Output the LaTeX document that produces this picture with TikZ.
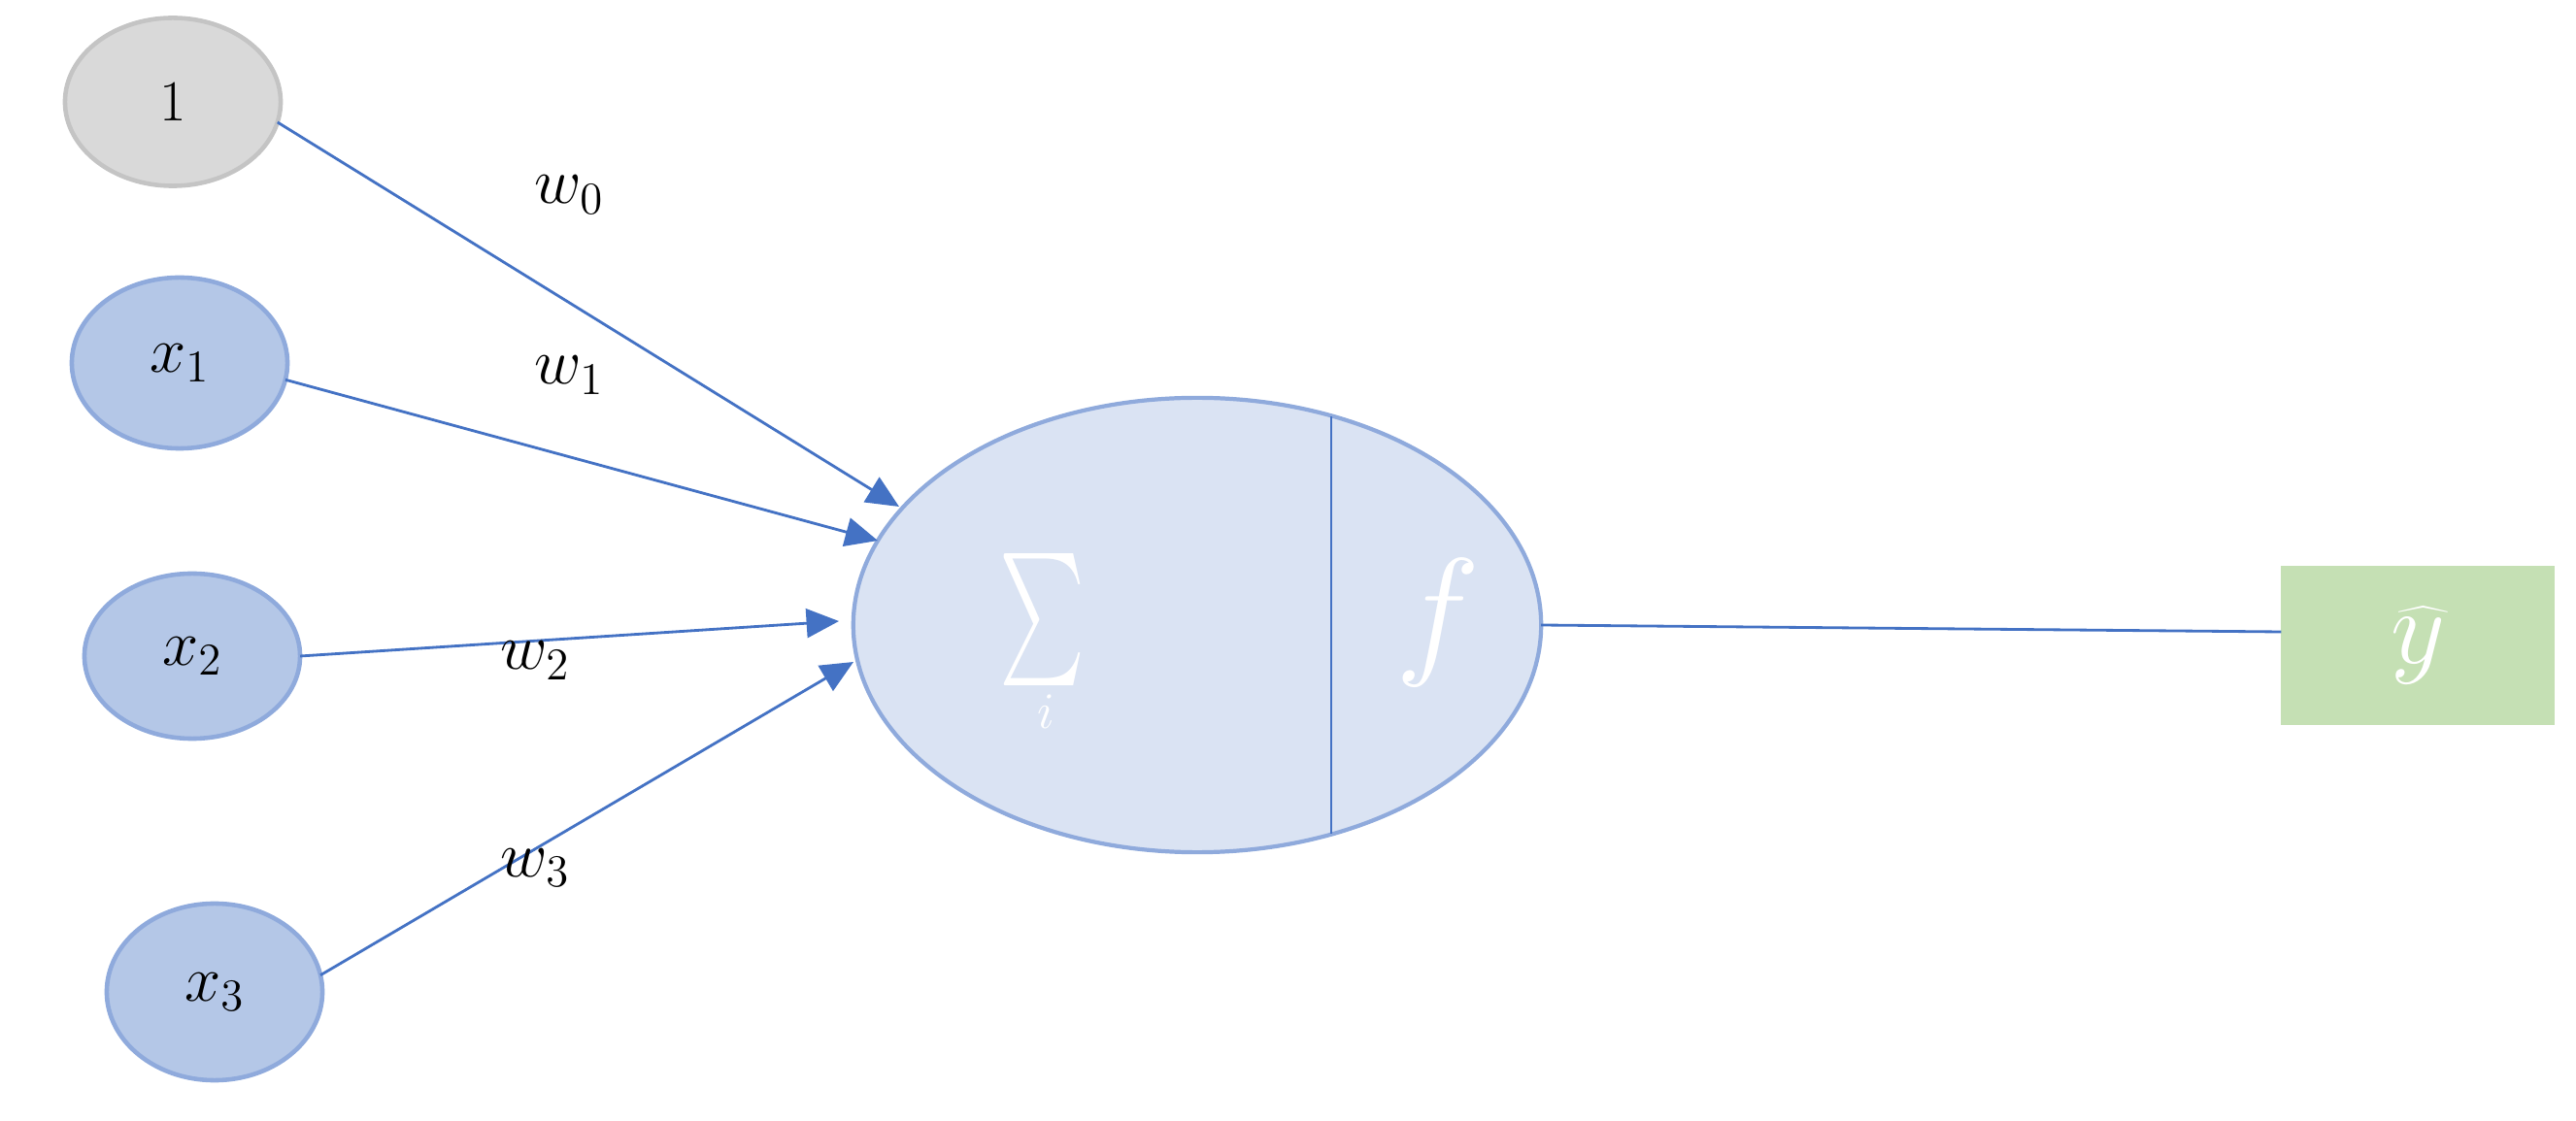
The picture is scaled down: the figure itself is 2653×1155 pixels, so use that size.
\RequirePackage{fix-cm}
\documentclass[tikz,border=0pt]{standalone}
\usepackage{graphicx}
\usetikzlibrary{arrows.meta,shapes.geometric,calc}
\definecolor{onefill}{HTML}{D9D9D9}
\definecolor{onedraw}{HTML}{C4C4C4}
\definecolor{infill}{HTML}{B4C7E7}
\definecolor{indraw}{HTML}{8FAADC}
\definecolor{bigfill}{HTML}{DAE3F3}
\definecolor{arrcol}{HTML}{4472C4}
\definecolor{outfill}{HTML}{C5E0B4}
\tikzset{
  graynode/.style={ellipse, fill=onefill, draw=onedraw, line width=1.3pt, inner sep=0pt, outer sep=0pt,
    minimum width=2.22cm, minimum height=1.73cm, font=\fontsize{17}{20}\selectfont},
  innode/.style={ellipse, fill=infill, draw=indraw, line width=1.3pt, inner sep=0pt, outer sep=0pt,
    minimum width=2.22cm, font=\fontsize{19}{23}\selectfont},
  neuronstyle/.style={ellipse, fill=bigfill, draw=indraw, line width=1.2pt, inner sep=0pt, outer sep=0pt,
    minimum width=7.08cm, minimum height=4.68cm},
  outbox/.style={rectangle, fill=outfill, inner sep=0pt, outer sep=0pt,
    minimum width=2.81cm, minimum height=1.64cm, text=white, font=\fontsize{31}{36}\selectfont},
  wlabel/.style={anchor=base west, inner sep=0pt, font=\fontsize{19}{23}\selectfont},
  arr/.style={draw=arrcol, line width=0.8pt, -{Triangle[length=9.5pt,width=8.5pt]}, arrcol},
  plainline/.style={draw=arrcol, line width=0.8pt},
  divline/.style={draw=arrcol, line width=0.7pt},
  whitetext/.style={text=white, inner sep=0pt}
}
\begin{document}
\begin{tikzpicture}[x=0.01cm,y=-0.01cm]
\useasboundingbox[fill=white] (0,0) rectangle (2653,1155);

% input nodes
\node[graynode] (one) at (178,105) {1};
\node[innode, minimum height=1.76cm] (x1) at (185,374) {$x_1$};
\node[innode, minimum height=1.70cm] (x2) at (198,676) {$x_2$};
\node[innode, minimum height=1.82cm] (x3) at (221,1022) {$x_3$};

% neuron
\node[neuronstyle] (neuron) at (1233,644) {};
\draw[divline] (1371,429) -- (1371,859);
\node[whitetext] (sigma) at (1074,639) {\resizebox*{0.88cm}{1.36cm}{$\sum$}};
\node[whitetext, anchor=base, font=\fontsize{15}{18}\selectfont] (idx) at (1077,751) {$i$};
\node[whitetext, font=\fontsize{42}{48}\selectfont] (fn) at (1481,642) {$f$};

% output
\node[outbox] (yhat) at (2490,665) {\raisebox{-5pt}{$\widehat{y}$}};

% arrow tips
\coordinate (t0) at (926,522);
\coordinate (t1) at (904,557);
\coordinate (t2) at (864,640);
\coordinate (t3) at (879,682);

\draw[arr] (one.-11.6) -- (t0);
\draw[arr] (x1.-9) -- (t1);
\draw[arr] (x2.-0.5) -- (t2);
\draw[arr] (x3.9.6) -- (t3);

\draw[plainline] (neuron.east) -- ($(yhat.west)+(0,-14)$);

% weights
\node[wlabel] (w0) at (550,210) {$w_0$};
\node[wlabel] (w1) at (550,396) {$w_1$};
\node[wlabel] (w2) at (515,690) {$w_2$};
\node[wlabel] (w3) at (515,903) {$w_3$};
\end{tikzpicture}
\end{document}
